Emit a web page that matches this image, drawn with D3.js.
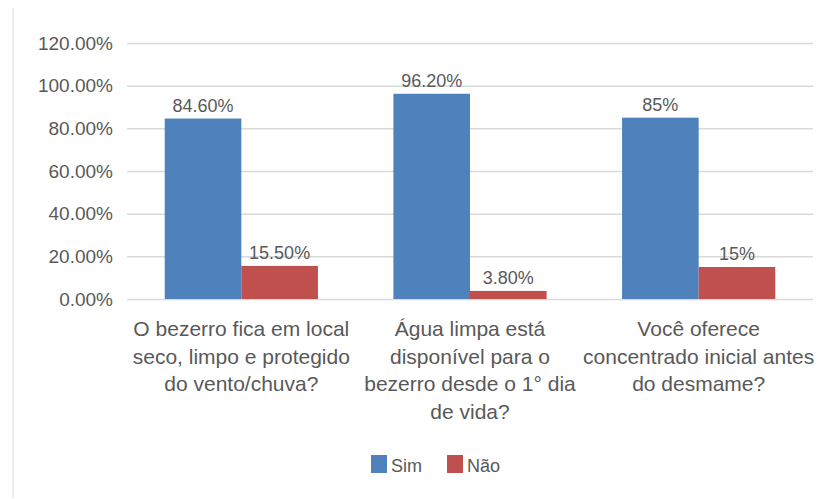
<!DOCTYPE html>
<html lang="pt">
<head>
    <meta charset="UTF-8">
    <title>Sim / Não</title>
    <script src="https://d3js.org/d3.v7.min.js"></script>
    <style>
        body { margin: 0; background: #fff; }
        text { font-family: "Liberation Sans", Arial, sans-serif; fill: #595959; }
    </style>
</head>
<body>
    <div id="chart"></div>

    <script>
        // data
        const categories = [
            ["O bezerro fica em local", "seco, limpo e protegido", "do vento/chuva?"],
            ["Água limpa está", "disponível para o", "bezerro desde o 1° dia", "de vida?"],
            ["Você oferece", "concentrado inicial antes", "do desmame?"]
        ];
        const seriesNames = ["Sim", "Não"];
        const simValues = [0.846, 0.962, 0.85];
        const naoValues = [0.155, 0.038, 0.15];
        const simLabels = ["84.60%", "96.20%", "85%"];
        const naoLabels = ["15.50%", "3.80%", "15%"];
        const yTicks = [0, 0.2, 0.4, 0.6, 0.8, 1.0, 1.2];
        const colors = ["#4F81BD", "#C0504D"];

        const W = 823, H = 499;
        const plotLeft = 127, plotRight = 813, plotTop = 43, plotBottom = 299;

        const svg = d3.select("#chart")
            .append("svg")
            .attr("width", W)
            .attr("height", H);

        // faint frame edge on the left
        svg.append("line")
            .attr("x1", 13).attr("x2", 13)
            .attr("y1", 8).attr("y2", H - 1)
            .attr("stroke", "#ededed")
            .attr("stroke-width", 2);

        const keys = categories.map((c, i) => i);
        const x0 = d3.scaleBand()
            .domain(keys)
            .range([plotLeft, plotRight])
            .paddingInner(0.33)
            .paddingOuter(0.165);

        const x1 = d3.scaleBand()
            .domain(seriesNames)
            .range([0, x0.bandwidth()]);

        const y = d3.scaleLinear()
            .domain([0, 1.2])
            .range([plotBottom, plotTop]);

        // gridlines + y labels
        const yAxis = svg.append("g")
            .attr("transform", `translate(${plotLeft},0)`)
            .call(d3.axisLeft(y)
                .tickValues(yTicks)
                .tickSize(-(plotRight - plotLeft))
                .tickPadding(14)
                .tickFormat(d => (d * 100).toFixed(2) + "%"));
        yAxis.select(".domain").remove();
        yAxis.selectAll(".tick line").attr("stroke", "#d9d9d9").attr("stroke-width", 1.5);
        yAxis.selectAll(".tick text")
            .attr("font-size", 19)
            .style("fill", "#595959");

        const rows = keys.map(i => ({ i, vals: [simValues[i], naoValues[i]], labs: [simLabels[i], naoLabels[i]] }));

        const groups = svg.selectAll(".grp")
            .data(rows)
            .join("g")
            .attr("transform", d => `translate(${x0(d.i)},0)`);

        groups.selectAll("rect")
            .data(d => d.vals.map((v, k) => ({ k, v })))
            .join("rect")
            .attr("x", d => x1(seriesNames[d.k]))
            .attr("width", x1.bandwidth())
            .attr("y", d => y(d.v))
            .attr("height", d => y(0) - y(d.v))
            .attr("fill", d => colors[d.k]);

        groups.selectAll(".lbl")
            .data(d => d.vals.map((v, k) => ({ k, v, t: d.labs[k] })))
            .join("text")
            .attr("class", "lbl")
            .attr("x", d => x1(seriesNames[d.k]) + x1.bandwidth() / 2)
            .attr("y", d => y(d.v) - 7)
            .attr("text-anchor", "middle")
            .attr("font-size", 18)
            .text(d => d.t);

        // category labels
        const catG = svg.selectAll(".cat")
            .data(rows)
            .join("text")
            .attr("class", "cat")
            .attr("text-anchor", "middle")
            .attr("font-size", 21);
        catG.selectAll("tspan")
            .data(d => categories[d.i].map(line => ({ line, i: d.i })))
            .join("tspan")
            .attr("x", d => x0(d.i) + x0.bandwidth() / 2)
            .attr("y", (d, j) => 336 + j * 27.5)
            .text(d => d.line);

        // legend
        const legend = svg.append("g").attr("transform", "translate(371,455)");
        const items = legend.selectAll("g")
            .data(seriesNames)
            .join("g")
            .attr("transform", (d, k) => `translate(${k * 76},0)`);
        items.append("rect")
            .attr("width", 16).attr("height", 18)
            .attr("fill", (d, k) => colors[k]);
        items.append("text")
            .attr("x", 20).attr("y", 17)
            .attr("font-size", 18)
            .text(d => d);
    </script>
</body>
</html>
